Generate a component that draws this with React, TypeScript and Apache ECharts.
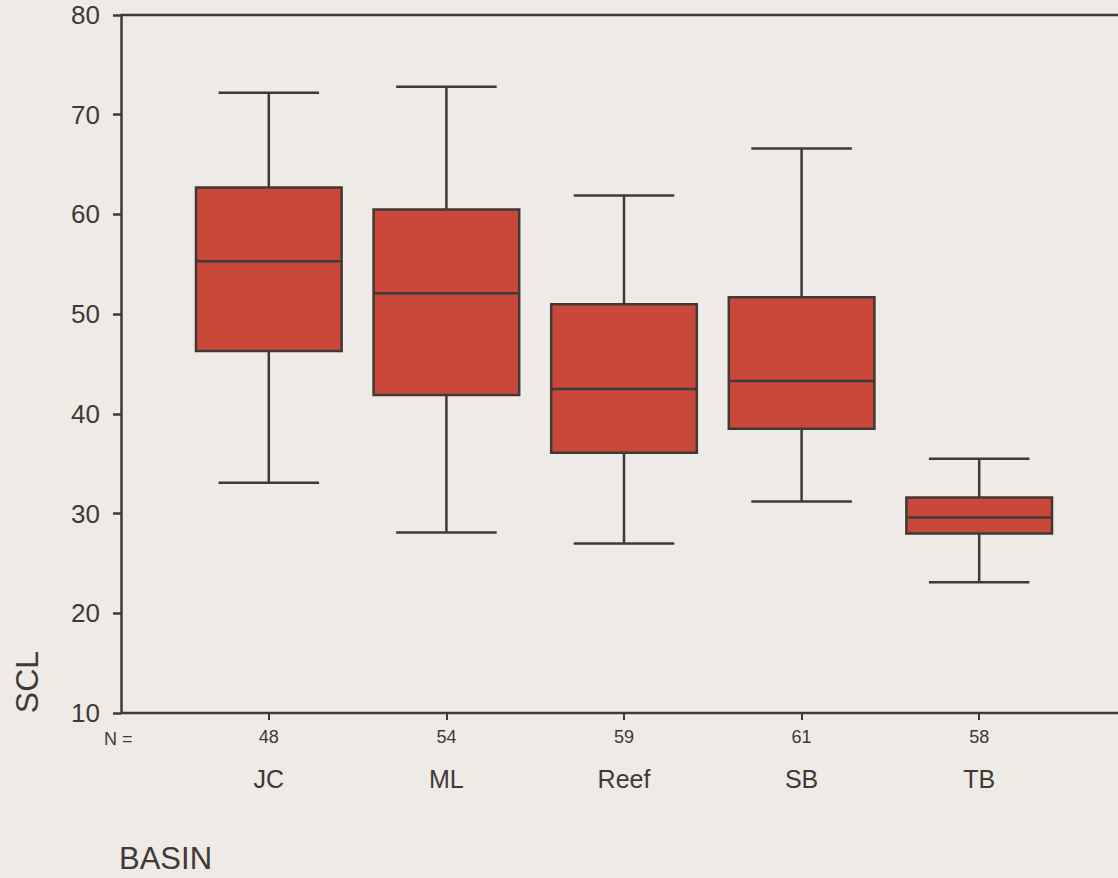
import React, { useEffect, useRef } from "react";
import * as echarts from "echarts";

const categories = ["JC", "ML", "Reef", "SB", "TB"];
const counts = ["48", "54", "59", "61", "58"];
// [low whisker, Q1, median, Q3, high whisker]
const lowWhisker = [33.1, 28.1, 27.0, 31.2, 23.1];
const q1 = [46.3, 41.9, 36.1, 38.5, 28.0];
const median = [55.3, 52.1, 42.5, 43.3, 29.6];
const q3 = [62.7, 60.5, 51.0, 51.7, 31.6];
const highWhisker = [72.2, 72.8, 61.9, 66.6, 35.5];
const yTicks = { min: 10, max: 80, interval: 10 };

const INK = "#403937";
const FILL = "#c9483a";
const BG = "#eeeae5";
const FONT = "'Liberation Sans', Arial, sans-serif";

export default function App() {
  const ref = useRef<HTMLDivElement>(null);
  useEffect(() => {
    if (!ref.current) return;
    const chart = echarts.init(ref.current, null, { renderer: "svg" });
    const data = categories.map((_, i) => [
      i,
      lowWhisker[i],
      q1[i],
      median[i],
      q3[i],
      highWhisker[i],
    ]);
    chart.setOption({
      animation: false,
      backgroundColor: BG,
      grid: { left: 180, right: 50, top: 15, bottom: 165 },
      xAxis: [
        {
          type: "category",
          data: counts,
          boundaryGap: true,
          axisLine: { show: false },
          axisTick: {
            show: true,
            alignWithLabel: true,
            length: 7,
            lineStyle: { color: INK, width: 2 },
          },
          axisLabel: {
            color: INK,
            fontSize: 18,
            fontFamily: FONT,
            margin: 15,
          },
        },
        {
          type: "category",
          data: categories,
          position: "bottom",
          offset: 48,
          axisLine: { show: false },
          axisTick: { show: false },
          axisLabel: {
            color: INK,
            fontSize: 25,
            fontFamily: FONT,
            margin: 5,
          },
        },
      ],
      yAxis: {
        type: "value",
        min: yTicks.min,
        max: yTicks.max,
        interval: yTicks.interval,
        offset: 59,
        axisLine: { show: true, lineStyle: { color: INK, width: 2.5 } },
        axisTick: {
          show: true,
          inside: false,
          length: 8,
          lineStyle: { color: INK, width: 2.5 },
        },
        axisLabel: {
          color: INK,
          fontSize: 26,
          fontFamily: FONT,
          margin: 21,
        },
        splitLine: { show: false },
      },
      graphic: [
        {
          type: "line",
          shape: { x1: 121, y1: 15, x2: 1118, y2: 15 },
          style: { stroke: INK, lineWidth: 2.5 },
          z: 10,
        },
        {
          type: "line",
          shape: { x1: 121, y1: 713, x2: 1118, y2: 713 },
          style: { stroke: INK, lineWidth: 2.5 },
          z: 10,
        },
        {
          type: "text",
          x: 104,
          y: 739,
          style: {
            text: "N =",
            fill: INK,
            font: `18px ${FONT}`,
            textAlign: "left",
            textVerticalAlign: "middle",
          },
        },
        {
          type: "text",
          x: 119,
          y: 858,
          style: {
            text: "BASIN",
            fill: INK,
            font: `31px ${FONT}`,
            textAlign: "left",
            textVerticalAlign: "middle",
          },
        },
        {
          type: "text",
          x: 27,
          y: 682,
          rotation: Math.PI / 2,
          style: {
            text: "SCL",
            fill: INK,
            font: `32px ${FONT}`,
            textAlign: "center",
            textVerticalAlign: "middle",
          },
        },
      ],
      series: [
        {
          type: "custom",
          xAxisIndex: 0,
          data,
          renderItem: (params: any, api: any) => {
            const i = api.value(0);
            const band = api.size([1, 0])[0];
            const boxHalf = band * 0.41;
            const capHalf = band * 0.283;
            const pLow = api.coord([i, api.value(1)]);
            const pQ1 = api.coord([i, api.value(2)]);
            const pMed = api.coord([i, api.value(3)]);
            const pQ3 = api.coord([i, api.value(4)]);
            const pHigh = api.coord([i, api.value(5)]);
            const cx = pMed[0];
            const lineStyle = { stroke: INK, lineWidth: 2.5, fill: "none" };
            return {
              type: "group",
              children: [
                {
                  type: "line",
                  shape: { x1: cx, y1: pQ3[1], x2: cx, y2: pHigh[1] },
                  style: lineStyle,
                },
                {
                  type: "line",
                  shape: { x1: cx, y1: pQ1[1], x2: cx, y2: pLow[1] },
                  style: lineStyle,
                },
                {
                  type: "line",
                  shape: {
                    x1: cx - capHalf,
                    y1: pHigh[1],
                    x2: cx + capHalf,
                    y2: pHigh[1],
                  },
                  style: lineStyle,
                },
                {
                  type: "line",
                  shape: {
                    x1: cx - capHalf,
                    y1: pLow[1],
                    x2: cx + capHalf,
                    y2: pLow[1],
                  },
                  style: lineStyle,
                },
                {
                  type: "rect",
                  shape: {
                    x: cx - boxHalf,
                    y: pQ3[1],
                    width: boxHalf * 2,
                    height: pQ1[1] - pQ3[1],
                  },
                  style: { fill: FILL, stroke: INK, lineWidth: 2.5 },
                },
                {
                  type: "line",
                  shape: {
                    x1: cx - boxHalf,
                    y1: pMed[1],
                    x2: cx + boxHalf,
                    y2: pMed[1],
                  },
                  style: lineStyle,
                },
              ],
            };
          },
        },
      ],
    });
    return () => chart.dispose();
  }, []);
  return (
    <div
      ref={ref}
      style={{ position: "fixed", left: 0, top: 0, width: 1118, height: 878 }}
    />
  );
}
